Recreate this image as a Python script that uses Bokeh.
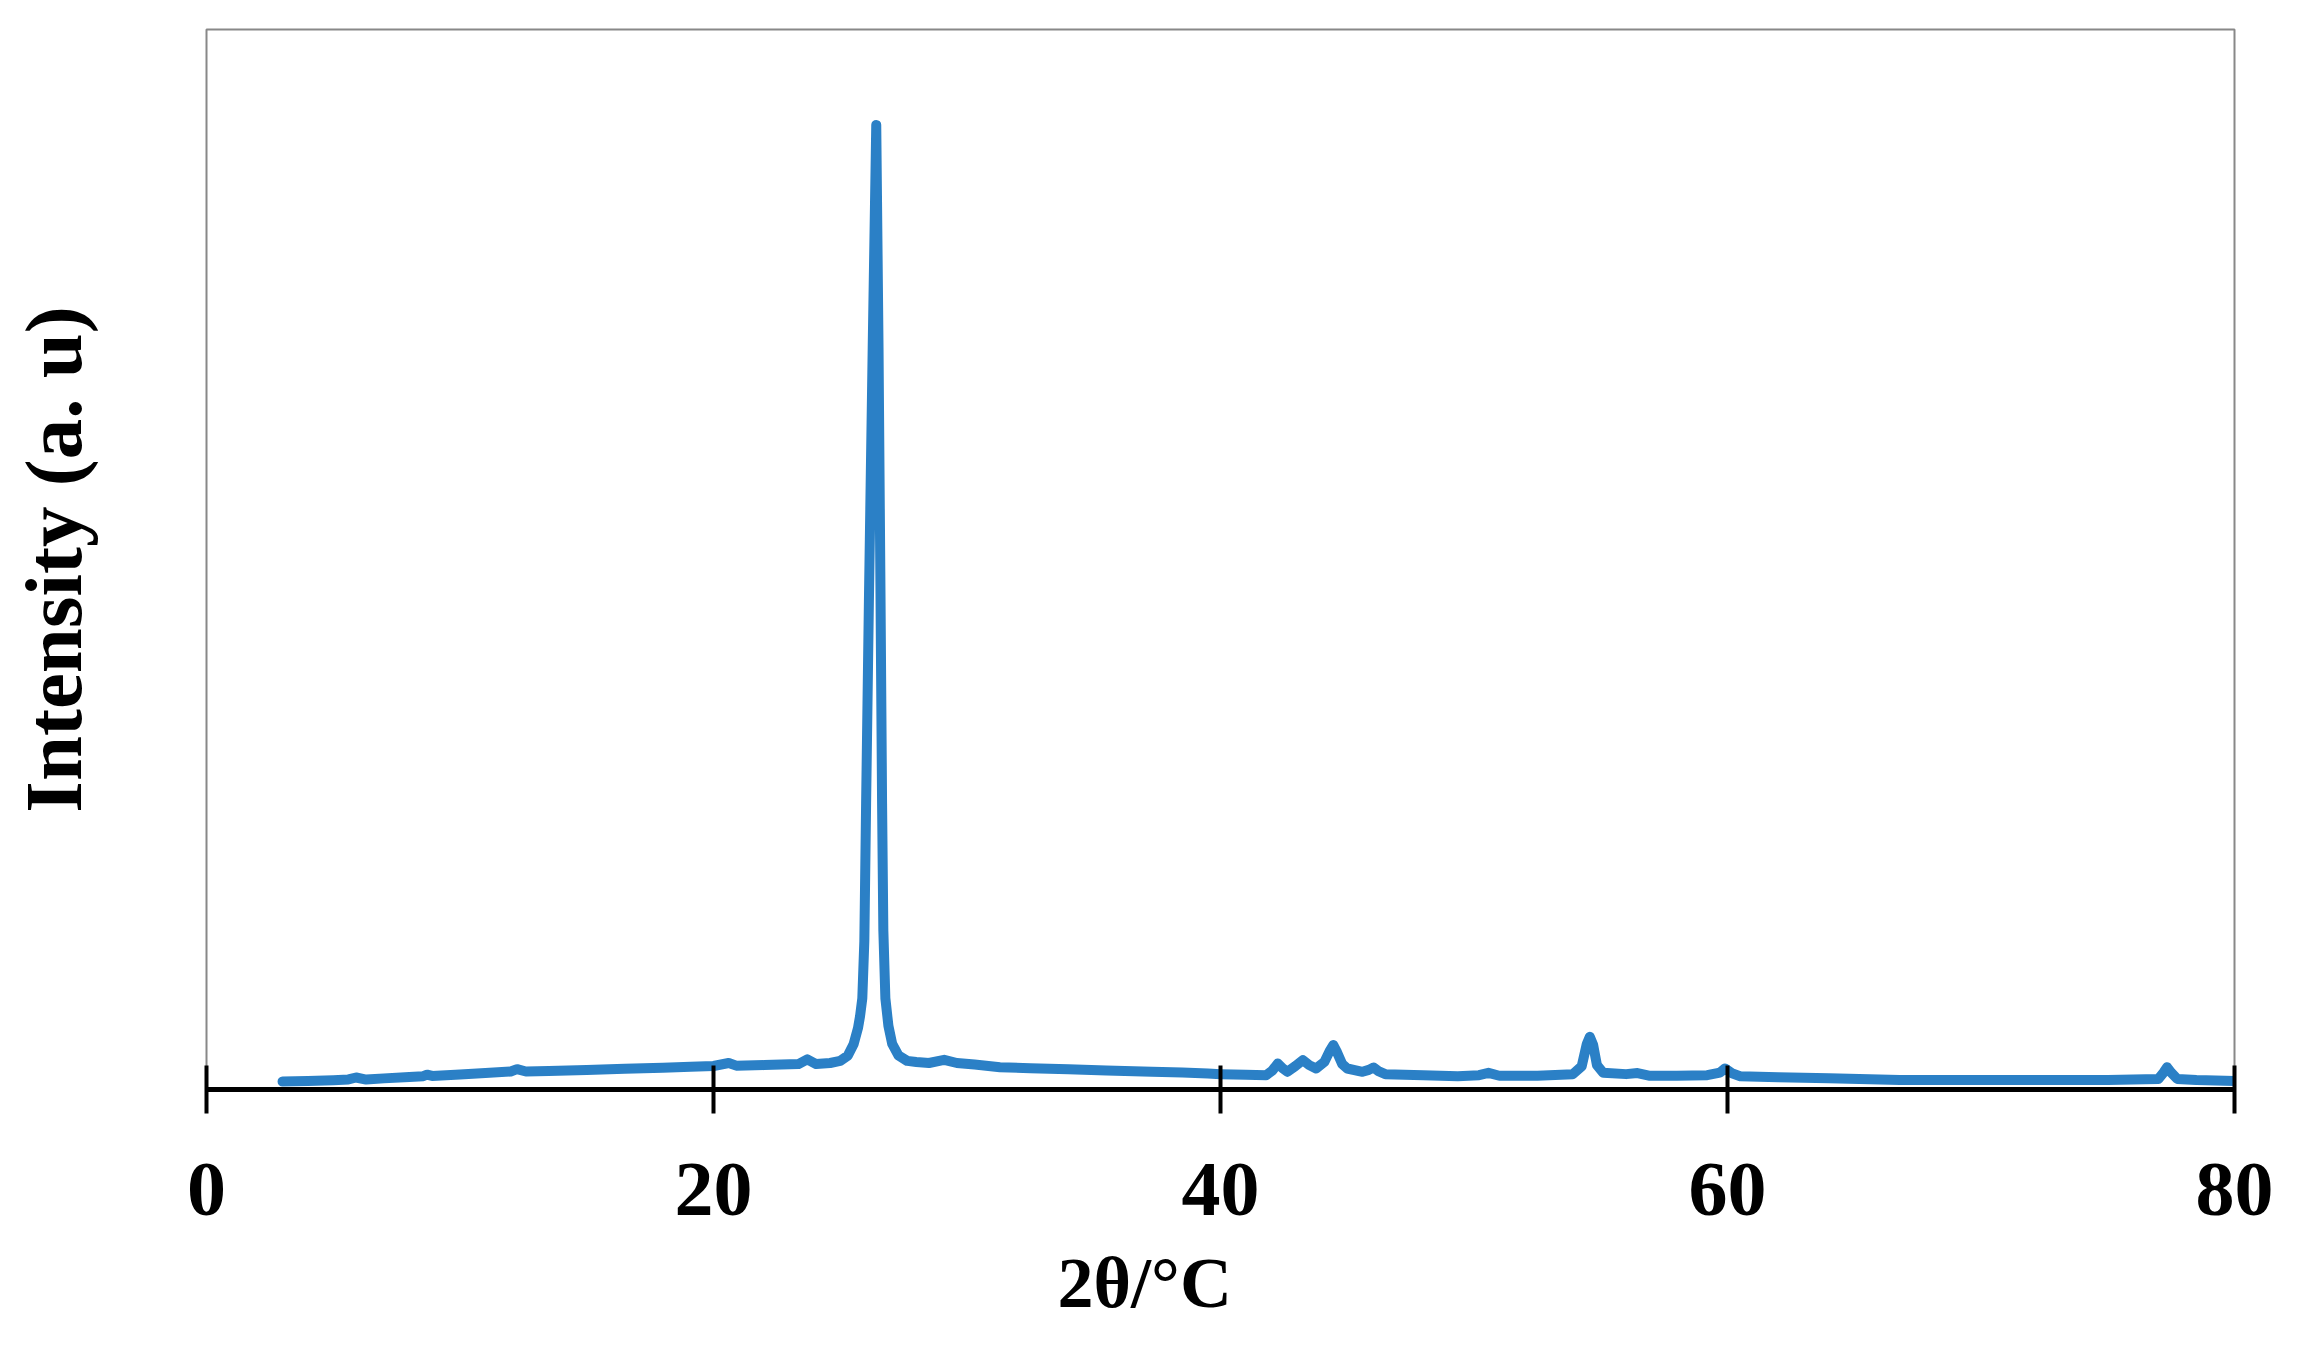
from bokeh.plotting import figure
from bokeh.models import Range1d, FixedTicker, Title
from bokeh.embed import file_html
from bokeh.resources import INLINE

# ---- data ----
two_theta = [
    3.0, 4.0, 5.0, 5.6, 5.9, 6.3, 7.0, 8.0, 8.55, 8.7, 8.9, 10.0, 11.0, 12.0, 12.25, 12.6,
    13.5, 15.0, 16.5, 18.0, 19.1, 20.0, 20.6, 20.9, 22.0, 23.35, 23.7, 24.05, 24.6, 25.0,
    25.3, 25.53, 25.7, 25.78, 25.87, 25.95, 26.02, 26.13, 26.28, 26.42, 26.51, 26.59, 26.65,
    26.7, 26.78, 26.9, 27.05,
    27.3, 27.64, 28.0, 28.5, 29.1, 29.6, 30.3, 31.3, 32.5, 34.0, 35.5, 37.3, 38.5, 39.5,
    40.0, 41.0, 41.8, 42.05, 42.26, 42.45, 42.64, 42.95, 43.25, 43.5, 43.77, 44.1, 44.3,
    44.45, 44.6, 44.8, 45.0, 45.6, 45.85, 46.04, 46.25, 46.5, 48.0, 49.36, 50.2, 50.57,
    51.0, 52.5, 53.9, 54.25, 54.45, 54.57, 54.7, 54.85, 55.1, 56.0, 56.45, 56.9, 58.0,
    59.2, 59.7, 59.9, 60.2, 60.5, 62.0, 64.0, 66.8, 69.0, 72.0, 75.0, 77.0, 77.2, 77.34,
    77.5, 77.74, 78.5, 80.0,
]
intensity = [
    0.75, 0.8, 0.88, 0.95, 1.13, 0.94, 1.05, 1.18, 1.26, 1.4, 1.28, 1.42, 1.55, 1.7, 1.92, 1.7,
    1.75, 1.85, 1.95, 2.05, 2.14, 2.22, 2.5, 2.25, 2.3, 2.4, 2.85, 2.4, 2.5, 2.7,
    3.2, 4.3, 5.8, 6.9, 8.6, 14.0, 27.0, 46.0, 70.0, 91.0, 70.0, 46.0, 27.0,
    15.0, 8.6, 6.0, 4.3,
    3.2, 2.7, 2.6, 2.5, 2.8, 2.5, 2.35, 2.1, 2.0, 1.9, 1.8, 1.67, 1.6, 1.5,
    1.45, 1.4, 1.35, 1.8, 2.45, 2.0, 1.67, 2.2, 2.77, 2.3, 1.98, 2.6, 3.6,
    4.2, 3.5, 2.4, 1.98, 1.67, 1.85, 2.08, 1.7, 1.45, 1.35, 1.26, 1.35, 1.57,
    1.3, 1.3, 1.45, 2.2, 4.3, 4.97, 4.2, 2.3, 1.57, 1.45, 1.55, 1.3, 1.3,
    1.35, 1.6, 1.98, 1.5, 1.26, 1.15, 1.05, 0.9, 0.9, 0.9, 0.9, 1.0, 1.6, 2.1,
    1.6, 1.0, 0.9, 0.8,
]
x_ticks = [0, 20, 40, 60, 80]
x_title = "2θ/°C"
y_title = "Intensity (a. u)"

SERIF = "Liberation Serif"

p = figure(width=2300, height=1346, output_backend="svg", toolbar_location=None,
           x_range=Range1d(0, 80), y_range=Range1d(0, 100),
           min_border_left=206, min_border_right=66, min_border_top=29, min_border_bottom=257)

p.line(two_theta, intensity, line_color="#2B80C6", line_width=10,
       line_join="round", line_cap="round")

p.grid.visible = False
p.outline_line_color = "#888888"
p.outline_line_width = 2
p.background_fill_color = "white"
p.border_fill_color = "white"

# y axis: only the title, no line/ticks/labels
ya = p.yaxis[0]
ya.ticker = FixedTicker(ticks=[])
ya.axis_line_color = None
ya.major_tick_line_color = None
ya.minor_tick_line_color = None
ya.major_tick_in = 0
ya.major_tick_out = 0
ya.minor_tick_in = 0
ya.minor_tick_out = 0
ya.major_label_standoff = 0
ya.axis_label = y_title
ya.axis_label_text_font = SERIF
ya.axis_label_text_font_style = "bold"
ya.axis_label_text_font_size = "81px"
ya.axis_label_text_color = "black"
ya.axis_label_standoff = 108

xa = p.xaxis[0]
xa.ticker = FixedTicker(ticks=x_ticks)
xa.axis_line_color = "black"
xa.axis_line_width = 5
xa.major_tick_line_color = "black"
xa.major_tick_line_width = 4
xa.major_tick_in = 24
xa.major_tick_out = 24
xa.minor_tick_line_color = None
xa.major_label_text_font = SERIF
xa.major_label_text_font_style = "bold"
xa.major_label_text_font_size = "78px"
xa.major_label_text_color = "black"
xa.major_label_standoff = 50

p.add_layout(Title(text=x_title, align="left", offset=851, standoff=46,
                   text_font=SERIF, text_font_style="bold", text_font_size="72px",
                   text_color="black"), "below")

open("out.html", "w").write(file_html(p, INLINE))
